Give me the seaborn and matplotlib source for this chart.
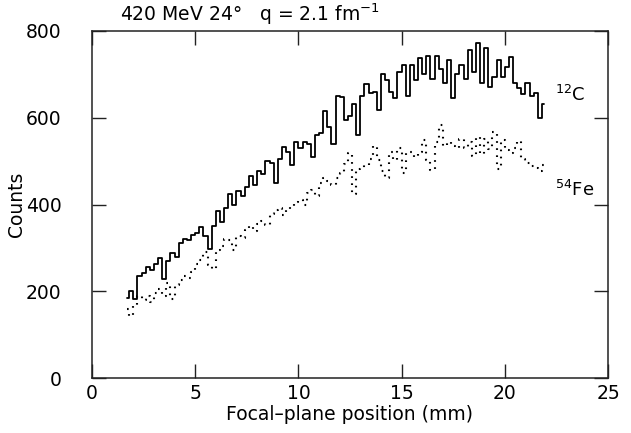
import numpy as np
import pandas as pd
import matplotlib
matplotlib.use("Agg")
import matplotlib.pyplot as plt
import seaborn as sns

# Bin centres (mm)
positions = [round(1.7 + 0.2 * i, 1) for i in range(102)]

counts_c12 = [185, 200, 182, 235, 242, 255, 248, 262, 276, 228,
              270, 288, 280, 312, 320, 318, 330, 334, 348, 328,
              298, 350, 385, 360, 392, 425, 400, 432, 420, 440,
              465, 445, 478, 470, 500, 495, 450, 505, 532, 520,
              490, 545, 530, 545, 540, 510, 560, 565, 615, 578,
              540, 650, 648, 595, 605, 632, 560, 650, 678, 656,
              660, 618, 700, 688, 660, 645, 706, 722, 650, 722,
              688, 738, 700, 742, 690, 742, 712, 680, 733, 645,
              702, 722, 690, 756, 705, 772, 680, 760, 672, 694,
              734, 694, 716, 740, 680, 668, 655, 680, 650, 656,
              600, 632]

counts_fe54 = [160, 142, 168, 190, 180, 188, 176, 195, 205, 188,
               218, 182, 215, 225, 235, 230, 245, 262, 272, 290,
               260, 252, 295, 305, 320, 318, 295, 328, 322, 342,
               350, 338, 355, 362, 352, 378, 388, 392, 376, 388,
               396, 405, 410, 398, 426, 434, 420, 450, 460, 455,
               445, 462, 472, 494, 518, 425, 482, 484, 492, 505,
               535, 502, 478, 462, 520, 502, 530, 472, 520, 522,
               510, 520, 548, 502, 480, 545, 583, 535, 545, 535,
               530, 552, 530, 545, 512, 555, 516, 550, 528, 568,
               482, 548, 525, 518, 530, 546, 505, 495, 488, 484,
               478, 490]

x_ticks = [0, 5, 10, 15, 20, 25]
y_ticks = [0, 200, 400, 600, 800]

df = pd.DataFrame({"pos": positions, "c12": counts_c12, "fe54": counts_fe54})

sns.set_style("ticks")
plt.rcParams["font.family"] = ["DejaVu Sans"]
plt.rcParams["mathtext.default"] = "regular"
plt.rcParams["text.color"] = "black"
plt.rcParams["axes.labelcolor"] = "black"
plt.rcParams["xtick.color"] = "black"
plt.rcParams["ytick.color"] = "black"

fig = plt.figure(figsize=(6.31, 4.33), dpi=100)
ax = fig.add_axes([92 / 631, 1 - 378 / 433, (608 - 92) / 631, (378 - 31) / 433])

sns.lineplot(data=df, x="pos", y="c12", ax=ax, color="black", lw=1.3,
             drawstyle="steps-mid", estimator=None)
sns.lineplot(data=df, x="pos", y="fe54", ax=ax, color="black", lw=1.5,
             linestyle=(0, (0.8, 2.6)), drawstyle="steps-mid", estimator=None)

ax.set_xlim(0, 25)
ax.set_ylim(0, 800)
ax.set_xticks(x_ticks)
ax.set_yticks(y_ticks)
ax.tick_params(direction="in", length=10, width=1.0, top=True, right=True,
               labelsize=13.5, color="#222222")
ax.tick_params(axis="y", pad=22)
ax.tick_params(axis="x", pad=4)
for s in ax.spines.values():
    s.set_linewidth(1.1)
    s.set_color("#222222")

ax.set_xlabel("Focal\u2013plane position (mm)", fontsize=13.5, labelpad=2)
ax.set_ylabel("Counts", fontsize=13.5, labelpad=0)

ax.text(22.45, 652, "$^{12}$C", fontsize=13, ha="left", va="center")
ax.text(22.45, 433, "$^{54}$Fe", fontsize=13, ha="left", va="center")

fig.text(120 / 631, 1 - 14 / 433, "420 MeV 24\u00b0   q = 2.1 fm$^{-1}$",
         fontsize=13.5, ha="left", va="center")

fig.savefig("out.png", dpi=100)
